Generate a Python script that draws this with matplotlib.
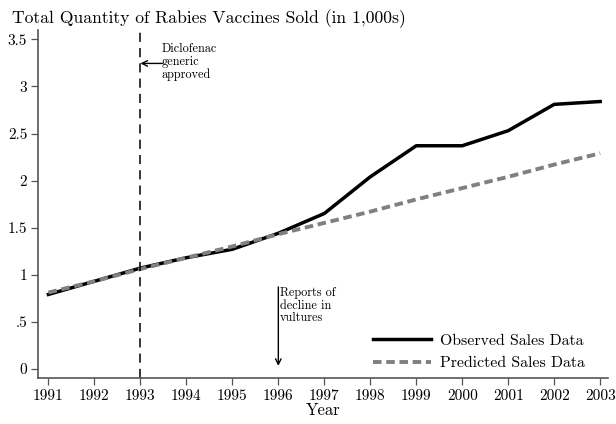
import matplotlib
matplotlib.use('Agg')
import matplotlib.pyplot as plt

years = [1991, 1992, 1993, 1994, 1995, 1996, 1997, 1998, 1999, 2000, 2001, 2002, 2003]
observed = [0.79, 0.93, 1.07, 1.18, 1.27, 1.44, 1.65, 2.04, 2.37, 2.37, 2.53, 2.81, 2.84]
predicted = [0.81, 0.93, 1.06, 1.18, 1.30, 1.43, 1.55, 1.67, 1.80, 1.92, 2.04, 2.17, 2.29]
yticks = [0, 0.5, 1, 1.5, 2, 2.5, 3, 3.5]
ytick_labels = ['0', '.5', '1', '1.5', '2', '2.5', '3', '3.5']

plt.rcParams['font.family'] = ['cmr10', 'DejaVu Serif']
plt.rcParams['axes.formatter.use_mathtext'] = True

fig = plt.figure(figsize=(6.16, 4.24), dpi=100)
ax = fig.add_axes([0.0622, 0.1092, 0.9248, 0.8200])

ax.plot(years, observed, color='black', linewidth=2.5, label='Observed Sales Data')
ax.plot(years, predicted, color='#808080', linewidth=2.8, linestyle=(0, (2.2, 1.2)),
        label='Predicted Sales Data')

ax.axvline(1993, color='black', linewidth=1.1, linestyle=(0, (6, 4)))

ax.annotate('', xy=(1993, 3.245), xytext=(1993.48, 3.245),
            arrowprops=dict(arrowstyle='->', color='black', lw=1, shrinkA=0, shrinkB=0))
ax.text(1993.47, 3.46, 'Diclofenac\ngeneric\napproved', fontsize=8.8, va='top', ha='left',
        linespacing=1.05)

ax.annotate('', xy=(1996, 0.03), xytext=(1996, 0.87),
            arrowprops=dict(arrowstyle='->', color='black', lw=1, shrinkA=0, shrinkB=0))
ax.text(1996.03, 0.87, 'Reports of\ndecline in\nvultures', fontsize=8.8, va='top', ha='left',
        linespacing=1.05)

ax.set_xlim(1990.78, 2003.17)
ax.set_ylim(-0.095, 3.6)
ax.set_xticks(years)
ax.set_xticklabels([str(y) for y in years], fontsize=11)
ax.set_yticks(yticks)
ax.set_yticklabels(ytick_labels, fontsize=11)
ax.set_xlabel('Year', fontsize=12, labelpad=0)

for s in ['top', 'right']:
    ax.spines[s].set_visible(False)
for s in ['left', 'bottom']:
    ax.spines[s].set_color('#555555')
    ax.spines[s].set_linewidth(1.2)
ax.tick_params(axis='both', direction='out', length=5, color='#555555', width=0.9, pad=3)

fig.text(0.019, 0.955, 'Total Quantity of Rabies Vaccines Sold (in 1,000s)', fontsize=12.7,
         ha='left', va='center')

ax.legend(loc='lower right', bbox_to_anchor=(0.985, -0.02), frameon=False, fontsize=11.4,
          handlelength=3.66, handletextpad=0.57, labelspacing=0.55)

fig.savefig('out.png', dpi=100)
